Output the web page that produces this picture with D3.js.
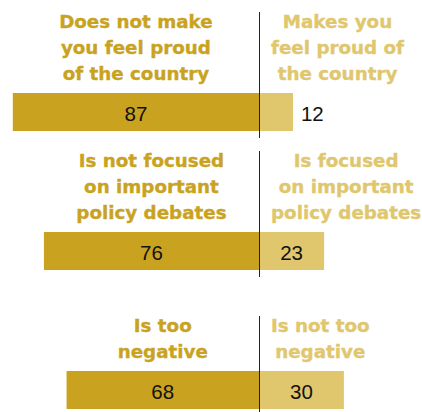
<!DOCTYPE html>
<html>
<head>
<meta charset="utf-8">
<script src="https://cdn.jsdelivr.net/npm/d3@7"></script>
<style>
  html, body { margin: 0; padding: 0; background: #fff; }
  svg { display: block; }
</style>
</head>
<body>
<svg id="chart" width="422" height="412"></svg>
<script>
// Survey items, one group per statement
const questions = ["proud", "focused", "negative"];
const leftLabels = [
  ["Does not make", "you feel proud", "of the country"],
  ["Is not focused", "on important", "policy debates"],
  ["Is too", "negative"]
];
const rightLabels = [
  ["Makes you", "feel proud of", "the country"],
  ["Is focused", "on important", "policy debates"],
  ["Is not too", "negative"]
];
const leftValues = [87, 76, 68];
const rightValues = [12, 23, 30];

const W = 422, H = 412;
const darkGold = "#C9A31F";
const lightGold = "#E0C76E";
const headFont = "'DejaVu Sans', sans-serif";
const numFont = "'Liberation Sans', Arial, sans-serif";
const lineH = 26;
const barH = 38;

const svg = d3.select("#chart");

// Diverging horizontal scale centred on the divider
const center = 259;
const x = d3.scaleLinear().domain([-100, 100]).range([center - 283, center + 283]);

// Vertical position of each group's bar
const y = d3.scalePoint().domain(questions).range([93, 371]);

const data = questions.map((q, i) => ({
  q, left: leftValues[i], right: rightValues[i],
  leftLab: leftLabels[i], rightLab: rightLabels[i]
}));

const g = svg.selectAll("g.group").data(data).join("g").attr("class", "group");

// Bars
g.append("rect")
  .attr("x", d => x(-d.left))
  .attr("y", d => y(d.q))
  .attr("width", d => x(0) - x(-d.left))
  .attr("height", barH)
  .attr("fill", darkGold);

g.append("rect")
  .attr("x", x(0))
  .attr("y", d => y(d.q))
  .attr("width", d => x(d.right) - x(0))
  .attr("height", barH)
  .attr("fill", lightGold);

// Divider segment for each group
g.append("line")
  .attr("x1", x(0) + 0.5).attr("x2", x(0) + 0.5)
  .attr("y1", d => y(d.q) - 13 - (d.leftLab.length - 1) * lineH - 16)
  .attr("y2", d => y(d.q) + barH + 7)
  .attr("stroke", "#222")
  .attr("stroke-width", 1);

// Value labels
g.append("text")
  .attr("x", d => (x(-d.left) + x(0)) / 2)
  .attr("y", d => y(d.q) + barH / 2)
  .attr("dy", "0.45em")
  .attr("text-anchor", "middle")
  .attr("font-family", numFont)
  .attr("font-size", 20.5)
  .attr("fill", "#111")
  .text(d => d.left);

g.append("text")
  .attr("x", d => d.right < 15 ? x(d.right) + 8 : (x(0) + x(d.right)) / 2)
  .attr("y", d => y(d.q) + barH / 2)
  .attr("dy", "0.45em")
  .attr("text-anchor", d => d.right < 15 ? "start" : "middle")
  .attr("font-family", numFont)
  .attr("font-size", 20.5)
  .attr("fill", "#111")
  .text(d => d.right);

// Group headers
g.each(function(d) {
  const grp = d3.select(this);
  const lastBase = y(d.q) - 13;

  // Left header, centred over the left bar
  const n = d.leftLab.length;
  const cx = (x(-d.left) + x(0)) / 2;
  const t = grp.append("text")
    .attr("font-family", headFont)
    .attr("font-weight", "bold")
    .attr("font-size", 18.3)
    .attr("fill", darkGold)
    .attr("stroke", darkGold)
    .attr("stroke-width", 0.35)
    .attr("text-anchor", "middle");
  d.leftLab.forEach((s, k) => {
    t.append("tspan").attr("x", cx).attr("y", lastBase - (n - 1 - k) * lineH).text(s);
  });

  // Right header: centred block whose left edge sits just right of the divider
  const m = d.rightLab.length;
  const rt = grp.append("text")
    .attr("font-family", headFont)
    .attr("font-weight", "bold")
    .attr("font-size", 18.3)
    .attr("fill", lightGold)
    .attr("stroke", lightGold)
    .attr("stroke-width", 0.35)
    .attr("text-anchor", "middle");
  const spans = d.rightLab.map((s, k) =>
    rt.append("tspan").attr("y", lastBase - (m - 1 - k) * lineH).text(s));
  const maxW = d3.max(spans, s => s.node().getComputedTextLength());
  spans.forEach(s => s.attr("x", x(0) + 12 + maxW / 2));
});
</script>
</body>
</html>
